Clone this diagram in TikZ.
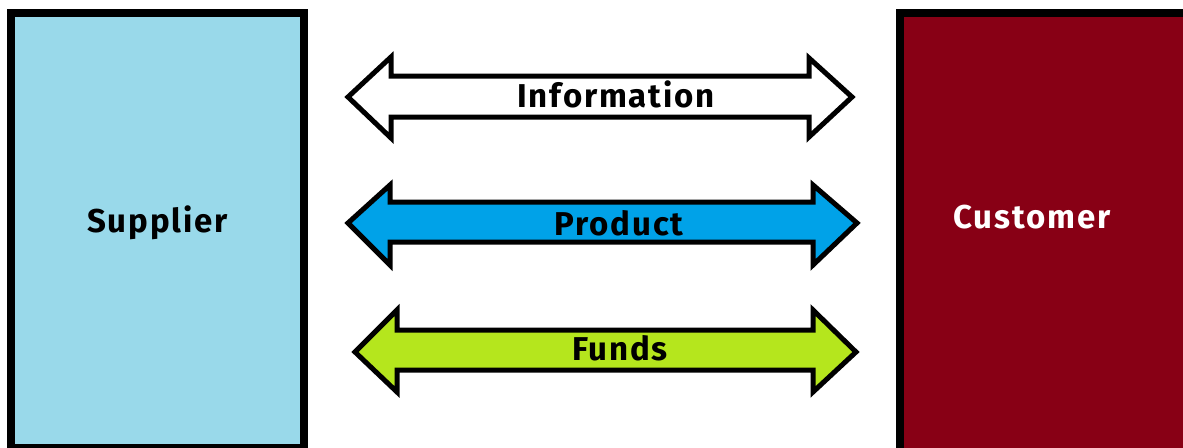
\documentclass[tikz,border=0pt]{standalone}
\usepackage{fontspec}
\setmainfont{Fira Sans}
\newfontfamily\lblfont[LetterSpace=5.5]{Fira Sans}
\definecolor{supfill}{RGB}{153,217,234}
\definecolor{custfill}{RGB}{136,0,21}
\definecolor{prodfill}{RGB}{0,162,232}
\definecolor{fundfill}{RGB}{181,230,29}
\tikzset{
  box/.style={draw=black, line width=8pt},
  dblarrow/.style={draw=black, line width=5pt, line join=miter},
  lbl/.style={anchor=base, inner sep=0pt, font=\lblfont\bfseries\fontsize{33}{33}\selectfont},
}
\begin{document}
\begin{tikzpicture}[x=1pt,y=-1pt]
\useasboundingbox (0,0) rectangle (1183,447);
\fill[white] (0,0) rectangle (1183,447);
\begin{scope}
\clip (0,0) rectangle (1183,447);
% boxes
\draw[box, fill=supfill] (11,13) rectangle (304,448);
\draw[box, fill=custfill] (899.5,13) rectangle (1210,470);
\end{scope}
\node[lbl] (sup) at (157.5,232) {Supplier};
\node[lbl, text=white] (cust) at (1032,228) {Customer};
% Information arrow
\draw[dblarrow, fill=white] (348,97) -- (391,57) -- (391,76) -- (809,76) -- (809,58) -- (852,97)
  -- (809,137) -- (809,117) -- (391,117) -- (391,138) -- cycle;
\node[lbl] (info) at (616,107) {Information};
% Product arrow
\draw[dblarrow, fill=prodfill] (348,223) -- (390,185) -- (390,202) -- (813,202) -- (813,185) -- (857,223)
  -- (813,265) -- (813,242) -- (390,242) -- (390,265) -- cycle;
\node[lbl] (prod) at (619,235) {Product};
% Funds arrow
\draw[dblarrow, fill=fundfill] (355,352) -- (397,310) -- (397,330) -- (813,330) -- (813,310) -- (856,352)
  -- (813,392) -- (813,370) -- (397,370) -- (397,392) -- cycle;
\node[lbl] (fund) at (620,360) {Funds};
\end{tikzpicture}
\end{document}
